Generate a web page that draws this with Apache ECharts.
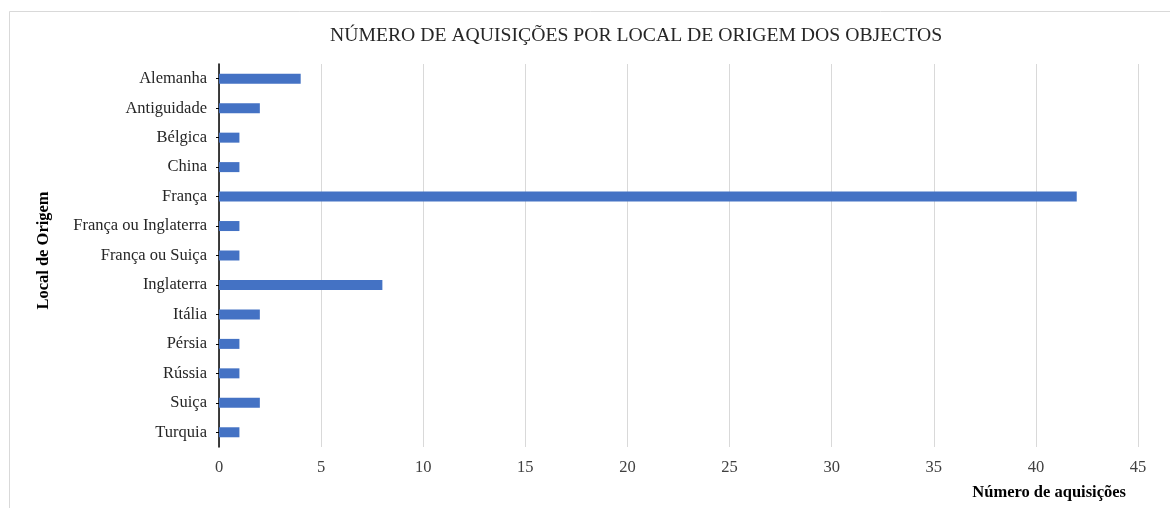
<!DOCTYPE html>
<html>
<head>
<meta charset="utf-8">
<script src="https://cdn.jsdelivr.net/npm/echarts@6/dist/echarts.min.js"></script>
<style>html,body{margin:0;padding:0;background:#fff;}#c{width:1170px;height:508px;}</style>
</head>
<body>
<div id="c"></div>
<script>
const titleText = 'NÚMERO DE AQUISIÇÕES POR LOCAL DE ORIGEM DOS OBJECTOS';
const categories = ['Alemanha','Antiguidade','Bélgica','China','França','França ou Inglaterra','França ou Suiça','Inglaterra','Itália','Pérsia','Rússia','Suiça','Turquia'];
const values = [4,2,1,1,42,1,1,8,2,1,1,2,1];
const xTicks = [0,5,10,15,20,25,30,35,40,45];
const xName = 'Número de aquisições';
const yName = 'Local de Origem';

const font = '"Liberation Serif", "Times New Roman", serif';
const chart = echarts.init(document.getElementById('c'), null, {renderer:'canvas'});
chart.setOption({
  animation:false,
  backgroundColor:'#fff',
  textStyle:{fontFamily:font},
  graphic:[{type:'rect',shape:{x:9.5,y:11.5,width:1200,height:600},style:{fill:'none',stroke:'#d9d9d9',lineWidth:1},silent:true}],
  title:{text:titleText,left:325,top:21,textStyle:{fontFamily:font,fontSize:19.7,fontWeight:'normal',color:'#262626'}},
  grid:{left:219,right:32,top:64,bottom:61,containLabel:false},
  xAxis:{type:'value',min:xTicks[0],max:xTicks[xTicks.length-1],interval:5,
    name:xName,nameLocation:'end',nameGap:0,
    nameTextStyle:{fontFamily:font,fontSize:16.5,fontWeight:'bold',color:'#000',align:'right',verticalAlign:'top',padding:[37,12,0,0]},
    axisLine:{show:false},axisTick:{show:false},
    axisLabel:{fontFamily:font,fontSize:16.5,color:'#404040',margin:12},
    splitLine:{show:true,lineStyle:{color:'#d9d9d9',width:1}}},
  yAxis:{type:'category',data:categories,inverse:true,
    name:yName,nameLocation:'middle',nameGap:167,nameRotate:90,
    nameTextStyle:{fontFamily:font,fontSize:16.5,fontWeight:'bold',color:'#000',padding:[0,0,0,10]},
    axisLine:{show:true,lineStyle:{color:'#000',width:1.5}},
    axisTick:{show:true,alignWithLabel:true,length:3,lineStyle:{color:'#000'}},
    axisLabel:{fontFamily:font,fontSize:16.5,color:'#262626',margin:12},
    splitLine:{show:false}},
  series:[{type:'bar',data:values,barWidth:10,itemStyle:{color:'#4472C4'}}]
});
</script>
</body>
</html>
